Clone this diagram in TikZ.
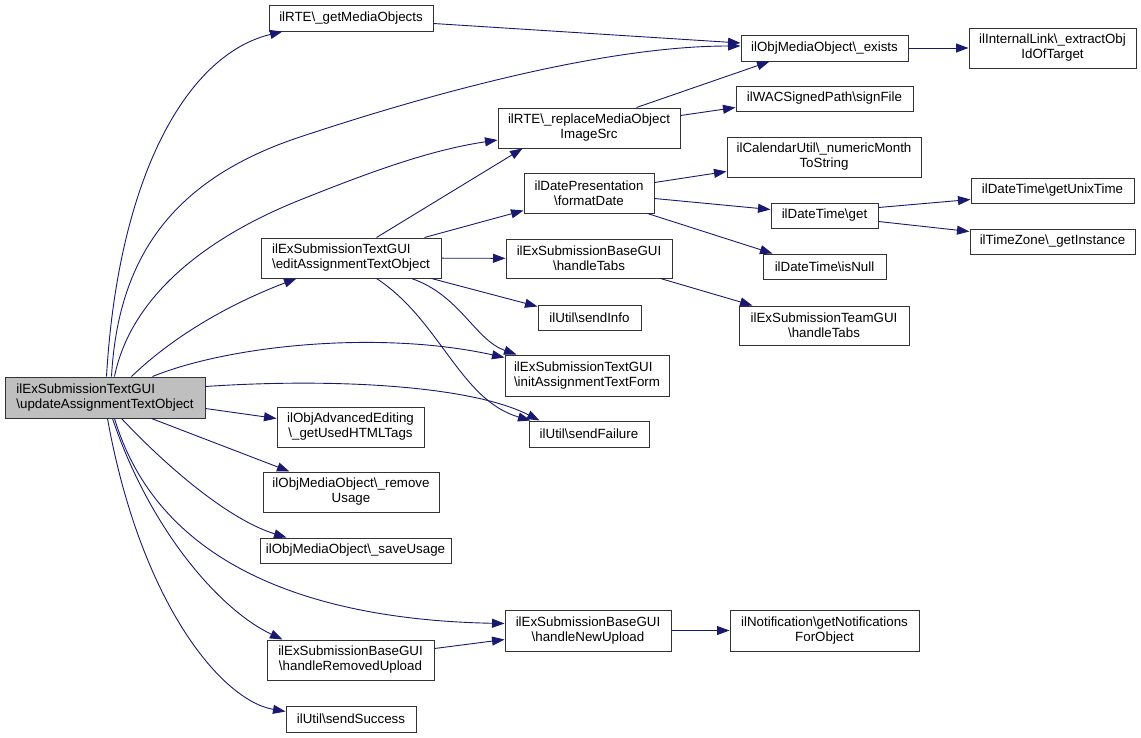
\documentclass[tikz,border=0pt]{standalone}
\usepackage{fontspec}
\setmainfont{Liberation Sans}
\usetikzlibrary{arrows.meta}
\definecolor{edgeblue}{RGB}{25,25,112}
\definecolor{boxgray}{RGB}{191,191,191}
\newcommand{\dbs}{\textbackslash}
\begin{document}
\begin{tikzpicture}[x=1pt,y=-1pt,
 fn/.style={draw=black!80, line width=1pt, inner sep=0pt, font=\fontsize{13.33}{15}\selectfont, align=center, fill=white},
 ed/.style={draw=edgeblue, line width=0.9pt, -{Triangle[length=12.5pt,width=9pt]}, fill=none}]
\useasboundingbox (0,0) rectangle (1141,737);
% nodes
\node[fn, minimum width=200pt, minimum height=41pt, fill=boxgray, align=left] (main) at (105,397.5) {ilExSubmissionTextGUI\\\dbs{}updateAssignmentTextObject};
\node[fn, minimum width=164pt, minimum height=26pt] (getMedia) at (351,18) {ilRTE\dbs\_getMediaObjects};
\node[fn, minimum width=167pt, minimum height=26pt] (exists) at (824.5,48) {ilObjMediaObject\dbs\_exists};
\node[fn, minimum width=167pt, minimum height=40pt] (extract) at (1052.5,48) {ilInternalLink\dbs\_extractObj\\IdOfTarget};
\node[fn, minimum width=182pt, minimum height=40pt] (replace) at (589,128) {ilRTE\dbs\_replaceMediaObject\\ImageSrc};
\node[fn, minimum width=177pt, minimum height=25pt] (signFile) at (824.5,98.5) {ilWACSignedPath\dbs{}signFile};
\node[fn, minimum width=194pt, minimum height=40pt] (calNum) at (824,157) {ilCalendarUtil\dbs\_numericMonth\\ToString};
\node[fn, minimum width=130pt, minimum height=40pt] (datePres) at (589,193) {ilDatePresentation\\\dbs{}formatDate};
\node[fn, minimum width=107pt, minimum height=25pt] (dtGet) at (824.5,215.5) {ilDateTime\dbs{}get};
\node[fn, minimum width=163pt, minimum height=25pt] (unix) at (1052.5,190.5) {ilDateTime\dbs{}getUnixTime};
\node[fn, minimum width=165pt, minimum height=25pt] (tz) at (1052.5,241.5) {ilTimeZone\dbs\_getInstance};
\node[fn, minimum width=123pt, minimum height=25pt] (isNull) at (824.5,266.5) {ilDateTime\dbs{}isNull};
\node[fn, minimum width=180pt, minimum height=40pt, align=left] (editAssign) at (351,258) {ilExSubmissionTextGUI\\\dbs{}editAssignmentTextObject};
\node[fn, minimum width=166pt, minimum height=39pt] (handleTabs) at (589,258.5) {ilExSubmissionBaseGUI\\\dbs{}handleTabs};
\node[fn, minimum width=170pt, minimum height=39pt] (teamTabs) at (824,325.5) {ilExSubmissionTeamGUI\\\dbs{}handleTabs};
\node[fn, minimum width=103pt, minimum height=25pt] (sendInfo) at (589.5,317.5) {ilUtil\dbs{}sendInfo};
\node[fn, minimum width=164pt, minimum height=41pt, align=left] (initForm) at (587,375.5) {ilExSubmissionTextGUI\\\dbs{}initAssignmentTextForm};
\node[fn, minimum width=120pt, minimum height=26pt] (sendFailure) at (589,434) {ilUtil\dbs{}sendFailure};
\node[fn, minimum width=147pt, minimum height=40pt] (advEdit) at (350.5,427) {ilObjAdvancedEditing\\\dbs\_getUsedHTMLTags};
\node[fn, minimum width=176pt, minimum height=40pt] (removeUsage) at (351,492) {ilObjMediaObject\dbs\_remove\\Usage};
\node[fn, minimum width=191pt, minimum height=25pt] (saveUsage) at (355.5,550.5) {ilObjMediaObject\dbs\_saveUsage};
\node[fn, minimum width=166pt, minimum height=41pt] (newUpload) at (588,630.5) {ilExSubmissionBaseGUI\\\dbs{}handleNewUpload};
\node[fn, minimum width=189pt, minimum height=41pt] (notif) at (824.5,630.5) {ilNotification\dbs{}getNotifications\\ForObject};
\node[fn, minimum width=167pt, minimum height=40pt] (removedUp) at (350.5,660) {ilExSubmissionBaseGUI\\\dbs{}handleRemovedUpload};
\node[fn, minimum width=130pt, minimum height=26pt] (sendSuccess) at (351,719) {ilUtil\dbs{}sendSuccess};
% edges from main
\draw[ed] ([xshift=102pt]main.north west) .. controls (118,180) and (185,55) .. ([xshift=14pt]getMedia.south west);
\draw[ed] ([xshift=107pt]main.north west) .. controls (118,260) and (170,180) .. (300,137) .. controls (420,97) and (600,46) .. ([yshift=2pt]exists.west);
\draw[ed] ([xshift=110pt]main.north west) .. controls (130,300) and (200,240) .. (300,200) .. controls (370,172) and (430,150) .. ([yshift=-12pt]replace.west);
\draw[ed] ([xshift=127pt]main.north west) .. controls (180,330) and (240,300) .. ([xshift=36pt]editAssign.south west);
\draw[ed] ([xshift=148pt]main.north west) .. controls (230,345) and (380,330) .. ([yshift=-3pt]initForm.north west);
\draw[ed] ([yshift=-10pt]main.north east) .. controls (330,378) and (470,385) .. ([xshift=11pt]sendFailure.north west);
\draw[ed] ([yshift=-32pt]main.north east) -- ([yshift=-12pt]advEdit.north west);
\draw[ed] ([xshift=147pt]main.south west) -- ([xshift=27pt]removeUsage.north west);
\draw[ed] ([xshift=117pt]main.south west) .. controls (170,470) and (230,520) .. ([xshift=27pt]saveUsage.north west);
\draw[ed] ([xshift=110pt]main.south west) .. controls (160,570) and (320,620) .. ([yshift=-14pt]newUpload.north west);
\draw[ed] ([xshift=108pt]main.south west) .. controls (150,530) and (220,610) .. ([xshift=16pt]removedUp.north west);
\draw[ed] ([xshift=103pt]main.south west) .. controls (140,600) and (220,700) .. ([yshift=-6pt]sendSuccess.north west);
% other edges
\draw[ed] ([yshift=-19pt]getMedia.north east) -- ([yshift=5pt]exists.west);
\draw[ed] ([xshift=139pt]replace.north west) -- ([xshift=29pt]exists.south west);
\draw[ed] ([yshift=-8pt]replace.north east) -- ([yshift=-22pt]signFile.north west);
\draw[ed] (exists) -- (extract);
\draw[ed] ([xshift=116pt]editAssign.north west) -- ([xshift=25pt]replace.south west);
\draw[ed] ([xshift=164pt]editAssign.north west) -- ([yshift=-38pt]datePres.north west);
\draw[ed] (editAssign) -- (handleTabs);
\draw[ed] ([xshift=171pt]editAssign.south west) -- ([yshift=-2pt]sendInfo.north west);
\draw[ed] ([xshift=151pt]editAssign.south west) .. controls (460,295) and (475,340) .. ([xshift=12pt]initForm.north west);
\draw[ed] ([xshift=116pt]editAssign.south west) .. controls (440,320) and (460,400) .. ([xshift=2pt]sendFailure.north west);
\draw[ed] ([yshift=-10pt]datePres.north east) -- ([yshift=-35pt]calNum.north west);
\draw[ed] ([yshift=-26pt]datePres.north east) -- ([yshift=-7pt]dtGet.north west);
\draw[ed] ([xshift=-7pt]datePres.south east) -- ([xshift=10pt]isNull.north west);
\draw[ed] ([yshift=-5pt]dtGet.north east) -- ([yshift=-22pt]unix.north west);
\draw[ed] ([yshift=-19pt]dtGet.north east) -- ([yshift=-3pt]tz.north west);
\draw[ed] ([xshift=-12pt]handleTabs.south east) -- ([xshift=14pt]teamTabs.north west);
\draw[ed] (newUpload) -- (notif);
\draw[ed] ([yshift=-9pt]removedUp.north east) -- ([yshift=-30pt]newUpload.north west);
\end{tikzpicture}
\end{document}
